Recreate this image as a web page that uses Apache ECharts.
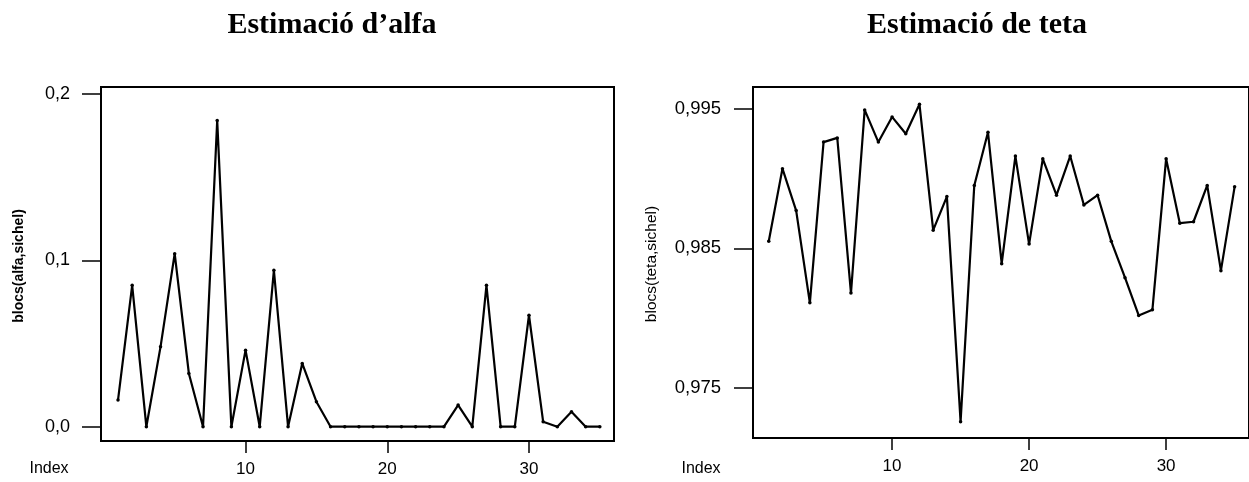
<!DOCTYPE html>
<html>
<head>
<meta charset="utf-8">
<script src="https://cdn.jsdelivr.net/npm/echarts@6/dist/echarts.min.js"></script>
<style>
  html, body { margin: 0; padding: 0; background: #fff; }
  #chart { width: 1249px; height: 482px; }
</style>
</head>
<body>
<div id="chart"></div>
<script>
// Block estimates of the Sichel parameters, one value per block index
const blockIndex = Array.from({ length: 35 }, (_, i) => i + 1);

const alfaValues = [
  0.016, 0.085, 0.000, 0.048, 0.104, 0.032, 0.000, 0.184, 0.000, 0.046,
  0.000, 0.094, 0.000, 0.038, 0.015, 0.000, 0.000, 0.000, 0.000, 0.000,
  0.000, 0.000, 0.000, 0.000, 0.013, 0.000, 0.085, 0.000, 0.000, 0.067,
  0.003, 0.000, 0.009, 0.000, 0.000
];

const tetaValues = [
  0.9855, 0.9907, 0.9877, 0.9811, 0.9926, 0.9929, 0.9818, 0.9949, 0.9926, 0.9944,
  0.9932, 0.9953, 0.9863, 0.9887, 0.9726, 0.9895, 0.9933, 0.9839, 0.9916, 0.9853,
  0.9914, 0.9888, 0.9916, 0.9881, 0.9888, 0.9855, 0.9829, 0.9802, 0.9806, 0.9914,
  0.9868, 0.9869, 0.9895, 0.9834, 0.9894
];

const indexTicks = [10, 20, 30];
const alfaTicks = [0, 0.1, 0.2];
const tetaTicks = [0.975, 0.985, 0.995];

const titles = ['Estimació d’alfa', 'Estimació de teta'];
const yNames = ['blocs(alfa,sichel)', 'blocs(teta,sichel)'];
const xName = 'Index';

const sansFont = '"Liberation Sans", Arial, sans-serif';
const serifFont = '"Liberation Serif", "Times New Roman", serif';

const commaDecimal = (digits) => (v) => Number(v).toFixed(digits).replace('.', ',');

function xAxisFor(gridIndex) {
  return {
    type: 'value',
    gridIndex: gridIndex,
    position: 'bottom',
    min: gridIndex === 0 ? -0.2 : -0.15,
    max: gridIndex === 0 ? 36 : 36.05,
    axisLine: { show: false, onZero: false },
    axisTick: {
      show: true, length: 12, inside: false,
      customValues: indexTicks,
      lineStyle: { color: '#000', width: 1.5 }
    },
    axisLabel: {
      show: true, margin: 20,
      customValues: indexTicks,
      color: '#000', fontFamily: sansFont, fontSize: 17,
      formatter: (v) => String(v)
    },
    splitLine: { show: false }
  };
}

function yAxisFor(gridIndex, min, max, ticks, digits, margin, fontSize) {
  return {
    type: 'value',
    gridIndex: gridIndex,
    min: min,
    max: max,
    axisLine: { show: false, onZero: false },
    axisTick: {
      show: true, length: 19, inside: false,
      customValues: ticks,
      lineStyle: { color: '#000', width: 1.5 }
    },
    axisLabel: {
      show: true, margin: margin,
      customValues: ticks,
      color: '#000', fontFamily: sansFont, fontSize: fontSize,
      formatter: commaDecimal(digits)
    },
    splitLine: { show: false }
  };
}

function seriesFor(idx, values) {
  return {
    type: 'line',
    xAxisIndex: idx,
    yAxisIndex: idx,
    data: blockIndex.map((x, i) => [x, values[i]]),
    symbol: 'circle',
    symbolSize: 3.5,
    showSymbol: true,
    itemStyle: { color: '#000' },
    lineStyle: { color: '#000', width: 2.2 },
    animation: false,
    silent: true
  };
}

const chart = echarts.init(document.getElementById('chart'), null, { renderer: 'canvas' });

chart.setOption({
  backgroundColor: '#fff',
  animation: false,
  title: [
    {
      text: titles[0], left: 327, top: 5, textAlign: 'center',
      textStyle: { fontFamily: serifFont, fontWeight: 'bold', fontSize: 30, color: '#000' }
    },
    {
      text: titles[1], left: 972, top: 5, textAlign: 'center',
      textStyle: { fontFamily: serifFont, fontWeight: 'bold', fontSize: 30, color: '#000' }
    }
  ],
  grid: [
    { left: 101, top: 87, width: 513, height: 354, show: true, borderColor: '#000', borderWidth: 2, backgroundColor: 'transparent' },
    { left: 753, top: 87, width: 506, height: 351, show: true, borderColor: '#000', borderWidth: 2, backgroundColor: 'transparent' }
  ],
  xAxis: [xAxisFor(0), xAxisFor(1)],
  yAxis: [
    yAxisFor(0, -0.0086, 0.2042, alfaTicks, 1, 31, 18),
    yAxisFor(1, 0.97143, 0.99654, tetaTicks, 3, 32, 18.5)
  ],
  series: [seriesFor(0, alfaValues), seriesFor(1, tetaValues)],
  graphic: [
    {
      type: 'text', x: 19, y: 266, rotation: Math.PI / 2,
      style: {
        text: yNames[0], fill: '#000', font: 'bold 14px ' + sansFont,
        align: 'center', verticalAlign: 'middle'
      }
    },
    {
      type: 'text', x: 652, y: 264, rotation: Math.PI / 2,
      style: {
        text: yNames[1], fill: '#000', font: '15.5px ' + sansFont,
        align: 'center', verticalAlign: 'middle'
      }
    },
    {
      type: 'text', x: 49, y: 469,
      style: {
        text: xName, fill: '#000', font: '16px ' + sansFont,
        align: 'center', verticalAlign: 'middle'
      }
    },
    {
      type: 'text', x: 701, y: 469,
      style: {
        text: xName, fill: '#000', font: '16px ' + sansFont,
        align: 'center', verticalAlign: 'middle'
      }
    }
  ]
});
</script>
</body>
</html>
